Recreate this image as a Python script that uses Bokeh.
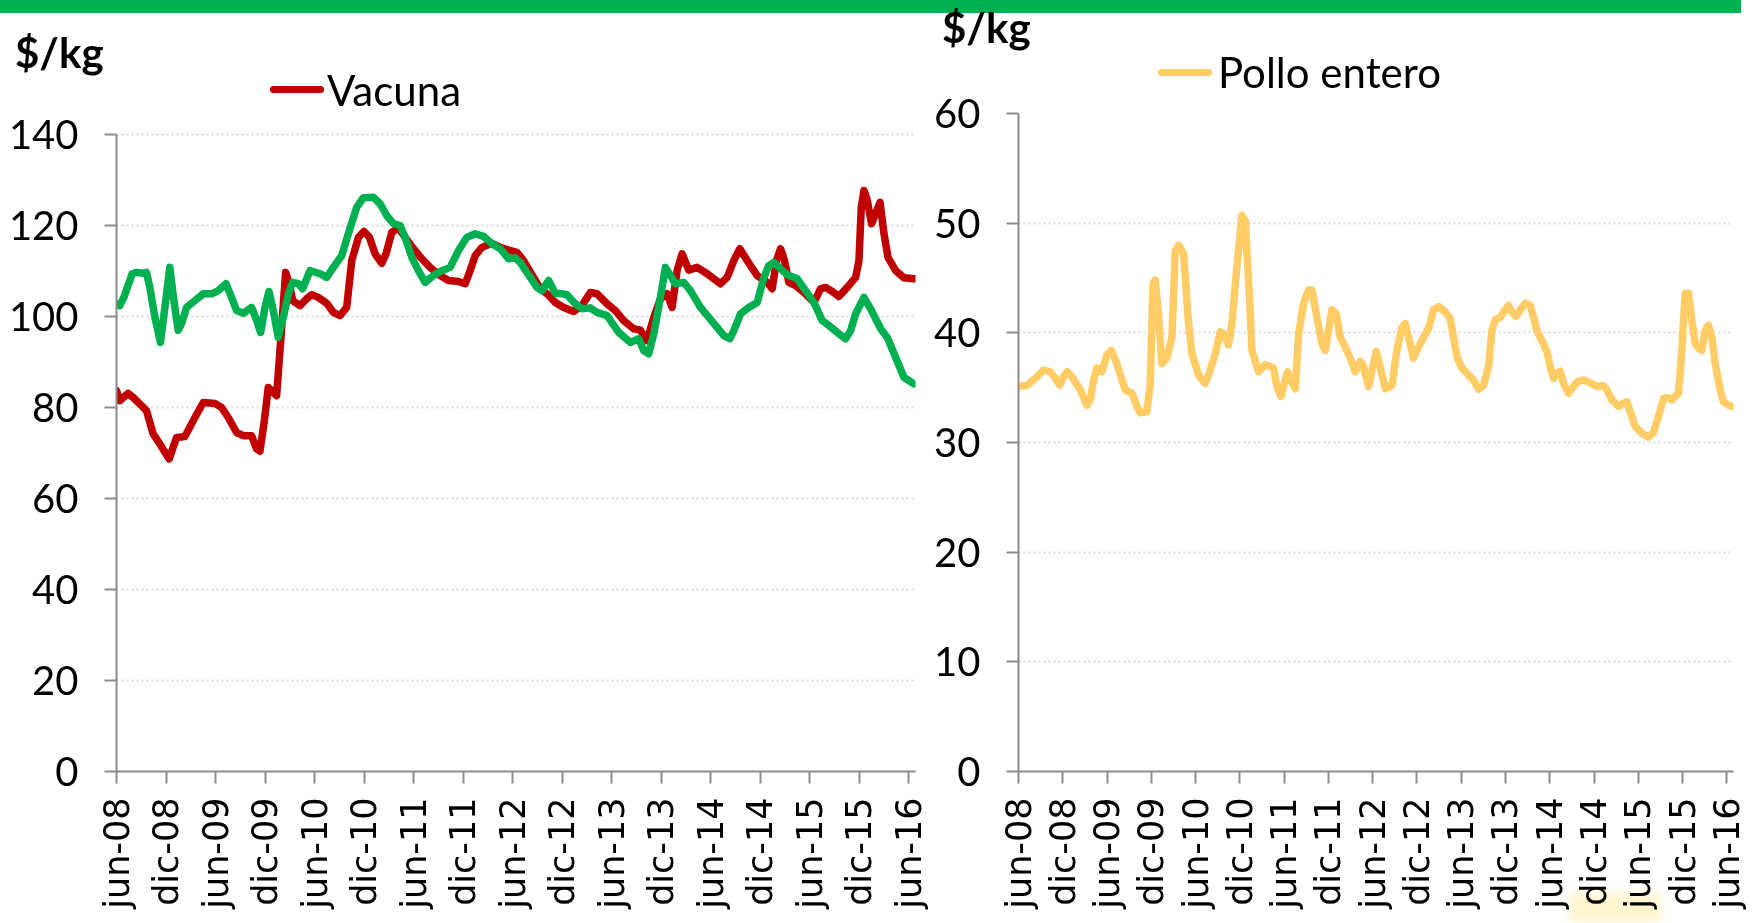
import math
from bokeh.plotting import figure
from bokeh.models import FixedTicker, Div, Range1d
from bokeh.layouts import column, row
from bokeh.embed import file_html
from bokeh.resources import INLINE

# ---------------- data ----------------
tick_months = [0, 6, 12, 18, 24, 30, 36, 42, 48, 54, 60, 66, 72, 78, 84, 90, 96]
tick_labels = ["jun-08", "dic-08", "jun-09", "dic-09", "jun-10", "dic-10", "jun-11", "dic-11",
               "jun-12", "dic-12", "jun-13", "dic-13", "jun-14", "dic-14", "jun-15", "dic-15", "jun-16"]

# months since jun-08
vacuna_mes = [0, 0.4, 1.41, 2.02, 3.03, 3.63, 4.44, 5.25, 6.38, 7.27, 8.28, 9.29, 10.51, 11.92, 12.73,
              13.54, 14.55, 15.36, 16.37, 16.98, 17.38, 17.91, 18.39, 19.40, 20.01, 20.49, 20.94, 21.34,
              22.23, 23.04, 23.65, 24.45, 25.47, 26.27, 27.08, 27.89, 28.50, 29.31, 29.99, 30.64, 31.33,
              32.14, 32.66, 33.35, 34.16, 34.97, 35.98, 36.99, 38.0, 39.21, 40.22, 41.43, 42.24, 42.85,
              43.46, 44.27, 45.48, 46.49, 47.50, 48.51, 49.32, 50.53, 51.34, 52.15, 53.16, 54.17, 55.38,
              56.39, 57.40, 58.21, 59.43, 60.44, 61.45, 62.66, 63.47, 64.28, 65.09, 65.90, 66.70, 67.31,
              67.92, 68.52, 69.33, 70.34, 71.56, 73.17, 73.98, 74.79, 75.52, 76.41, 77.62, 78.83, 79.44,
              79.96, 80.45, 80.93, 81.46, 82.27, 83.28, 84.49, 85.30, 85.91, 86.72, 87.52, 88.53, 89.55,
              89.95, 90.23, 90.56, 90.96, 91.48, 91.97, 92.50, 92.98, 93.47, 94.40, 95.41, 96.62]
vacuna_precio = [83.7, 81.5, 83.1, 82.2, 80.4, 79.3, 74.2, 72.0, 68.7, 73.4, 73.6, 77.1, 81.1, 80.9, 80.0,
                 77.8, 74.5, 73.8, 73.8, 70.9, 70.4, 77.1, 84.4, 82.6, 97.6, 109.7, 107.2, 103.5,
                 102.4, 103.9, 104.8, 104.2, 102.9, 100.9, 100.2, 102.0, 112.3, 117.4, 118.7, 117.4, 113.8,
                 111.7, 113.8, 118.5, 119.5, 117.4, 114.9, 112.7, 110.8, 109.0, 107.9, 107.7, 107.2, 110.1,
                 113.4, 115.2, 116.1, 115.2, 114.6, 114.1, 112.3, 108.6, 106.1, 105.0, 103.1, 102.0, 101.1,
                 102.4, 105.3, 105.0, 102.8, 101.3, 99.1, 97.3, 97.0, 94.7, 99.8, 103.9, 105.0, 102.0,
                 110.1, 113.8, 110.2, 110.8, 109.4, 107.2, 108.6, 112.3, 114.9, 112.3, 109.0, 107.5, 106.1,
                 112.3, 114.9, 112.3, 107.5, 106.8, 105.3, 103.1, 106.1, 106.4, 105.5, 104.4, 106.4, 108.6,
                 112.3, 124.0, 127.7, 125.5, 120.4, 122.6, 125.1, 118.2, 113.0, 110.1, 108.5, 108.3]

verde_mes = [0, 0.40, 0.89, 1.90, 2.42, 3.23, 3.63, 4.04, 4.65, 5.33, 5.86, 6.46, 6.95, 7.47, 7.88, 8.49,
             9.50, 10.51, 11.52, 12.33, 13.26, 13.94, 14.55, 15.36, 16.37, 16.98, 17.46, 17.99, 18.47,
             19.00, 19.60, 20.21, 20.82, 21.34, 22.03, 22.55, 23.44, 24.66, 25.47, 26.27, 27.29, 28.09,
             29.10, 29.91, 31.13, 31.93, 32.74, 33.55, 34.36, 34.97, 35.78, 36.58, 37.39, 38.40, 39.21,
             40.42, 41.43, 42.45, 43.46, 44.47, 45.48, 46.49, 47.50, 48.31, 48.91, 50.13, 50.94, 51.54,
             52.35, 53.16, 53.97, 54.57, 55.58, 56.39, 57.40, 58.21, 59.43, 60.84, 62.26, 63.27, 63.87,
             64.48, 65.09, 65.90, 66.50, 67.11, 67.71, 68.72, 69.53, 70.75, 71.76, 72.77, 73.58, 74.30,
             74.79, 75.60, 76.61, 77.62, 78.43, 79.03, 79.64, 80.45, 81.26, 82.47, 83.48, 84.49, 85.50,
             86.31, 87.32, 88.33, 88.94, 89.55, 90.56, 91.36, 92.58, 93.39, 94.40, 95.41, 96.62]
verde_precio = [102.8, 102.4, 104.2, 109.4, 109.7, 109.5, 109.7, 106.4, 99.8, 94.3, 102.0, 110.8, 103.5,
                97.0, 98.4, 102.0, 103.5, 105.0, 105.0, 105.7, 107.2, 104.2, 101.3, 100.7, 102.0, 99.1,
                96.5, 102.0, 105.5, 101.3, 95.4, 99.8, 105.0, 107.5, 107.2, 106.1, 110.1, 109.4, 108.6,
                110.8, 113.4, 118.2, 124.0, 126.1, 126.2, 124.8, 122.2, 120.4, 120.0, 117.4, 113.0, 110.1,
                107.5, 109.0, 109.9, 110.8, 114.5, 117.4, 118.2, 117.6, 116.0, 114.9, 112.7, 112.9, 111.9,
                108.6, 106.4, 105.7, 107.9, 105.1, 105.0, 104.8, 102.8, 101.7, 101.9, 100.9, 100.2, 96.5,
                94.3, 95.1, 92.5, 91.8, 96.2, 104.2, 110.8, 109.0, 107.2, 107.5, 105.7, 102.0, 99.8, 97.6,
                95.8, 95.1, 96.9, 100.6, 102.0, 103.1, 108.6, 111.2, 111.9, 110.5, 109.2, 108.3, 105.7,
                103.1, 99.1, 98.0, 96.5, 95.1, 96.9, 100.6, 104.2, 101.7, 97.3, 95.4, 91.0, 86.6, 85.2]

pollo_mes = [0, 1.15, 2.28, 3.41, 4.31, 4.99, 5.57, 6.12, 6.57, 7.24, 8.37, 9.28, 9.73, 10.18, 10.63,
             11.31, 11.99, 12.57, 13.34, 14.02, 14.47, 15.38, 16.05, 16.50, 17.41, 17.86, 18.22, 18.54,
             18.99, 19.44, 20.12, 20.80, 21.25, 21.70, 22.38, 23.05, 23.50, 24.41, 25.31, 25.99, 26.67,
             27.34, 27.80, 28.47, 28.93, 29.60, 30.28, 30.73, 31.32, 31.64, 32.54, 33.44, 34.57, 35.02,
             35.56, 36.02, 36.47, 36.92, 37.51, 37.96, 38.64, 39.31, 39.77, 40.44, 41.12, 41.57, 42.02,
             42.48, 43.06, 43.60, 44.28, 44.96, 45.64, 46.31, 46.77, 47.44, 48.12, 48.48, 49.02, 49.70,
             50.61, 51.28, 51.96, 52.41, 52.86, 53.54, 54.22, 54.90, 55.57, 56.25, 56.93, 57.83, 58.51,
             58.96, 59.41, 60.09, 60.99, 61.67, 62.35, 63.03, 63.70, 64.16, 64.61, 65.28, 65.96, 66.41,
             66.87, 67.45, 68.00, 68.67, 69.35, 69.80, 70.25, 70.93, 71.61, 72.06, 72.51, 72.96, 73.41,
             73.87, 74.54, 74.99, 75.67, 76.58, 77.48, 78.38, 79.29, 79.74, 80.42, 81.32, 82.00, 82.45,
             82.90, 83.58, 84.48, 85.38, 86.06, 86.74, 87.42, 87.87, 88.55, 89.45, 89.90, 90.35, 90.80,
             91.26, 91.71, 92.16, 92.61, 93.06, 93.51, 93.97, 94.42, 95.09, 95.55, 96.22, 96.68]
pollo_precio = [35.1, 35.2, 35.85, 36.6, 36.45, 35.85, 35.24, 36.0, 36.45, 36.0, 34.8, 33.4, 33.9, 35.7,
                36.8, 36.45, 38.0, 38.4, 37.2, 35.7, 34.8, 34.5, 33.3, 32.7, 32.8, 35.4, 44.5, 44.8,
                41.45, 37.2, 37.7, 39.6, 47.5, 48.0, 47.2, 40.85, 38.1, 36.15, 35.4, 36.6, 38.1, 40.1,
                39.9, 38.9, 40.85, 46.0, 50.7, 50.2, 43.0, 38.4, 36.45, 37.1, 36.8, 35.1, 34.2, 35.4,
                36.45, 35.7, 34.9, 39.9, 42.7, 43.9, 43.9, 41.45, 39.0, 38.4, 40.2, 42.1, 41.75, 39.6,
                38.7, 37.7, 36.45, 37.4, 36.9, 35.1, 37.2, 38.3, 36.9, 34.9, 35.2, 38.4, 40.5, 40.85,
                39.6, 37.7, 38.7, 39.6, 40.4, 42.1, 42.4, 41.9, 41.3, 39.6, 37.8, 36.8, 36.15, 35.7,
                34.85, 35.2, 36.9, 40.2, 41.2, 41.4, 42.1, 42.5, 41.9, 41.5, 42.1, 42.7, 42.5, 41.45,
                40.2, 39.3, 38.3, 36.9, 35.85, 36.3, 36.5, 35.4, 34.5, 34.9, 35.5, 35.7, 35.45, 35.1,
                35.2, 34.8, 33.9, 33.3, 33.6, 33.7, 32.8, 31.45, 30.85, 30.5, 30.9, 32.4, 34.0, 34.1,
                33.9, 34.5, 38.4, 43.6, 43.6, 41.15, 39.0, 38.6, 38.4, 40.2, 40.7, 39.6, 37.2, 34.8,
                33.7, 33.4, 33.3]

ticks_izq = [0, 20, 40, 60, 80, 100, 120, 140]
ticks_der = [0, 10, 20, 30, 40, 50, 60]

unidad = "$/kg"
serie_izq = "Vacuna"
serie_der = "Pollo entero"

ROJO = "#C00000"
VERDE = "#00B050"
AMARILLO = "#FFCC66"
GRIS = "#8C8C8C"
FONT = "Lato"
LW = 7.5


def estilo(p, yticks):
    p.xaxis.ticker = FixedTicker(ticks=tick_months)
    p.xaxis.major_label_overrides = {m: l for m, l in zip(tick_months, tick_labels)}
    p.xaxis.major_label_orientation = math.pi / 2
    p.xaxis.major_label_text_font = "DejaVu Sans"
    p.xaxis.major_label_text_font_size = "35px"
    p.xaxis.major_label_standoff = 14
    p.yaxis.ticker = FixedTicker(ticks=yticks)
    p.yaxis.bounds = (yticks[0], yticks[-1])
    p.yaxis.major_label_text_font = FONT
    p.yaxis.major_label_text_font_size = "40px"
    p.yaxis.major_label_standoff = 26
    for ax in (p.xaxis, p.yaxis):
        ax.axis_line_color = GRIS
        ax.axis_line_width = 2
        ax.major_tick_line_color = GRIS
        ax.major_tick_line_width = 2
        ax.major_tick_out = 12
        ax.major_tick_in = 0
        ax.minor_tick_line_color = None
        ax.major_label_text_color = "black"
    p.xgrid.visible = False
    p.ygrid.ticker = FixedTicker(ticks=yticks)
    p.ygrid.grid_line_color = "#D9D9D9"
    p.ygrid.grid_line_dash = "2 3"
    p.ygrid.grid_line_width = 2
    p.outline_line_color = None
    p.background_fill_color = "white"
    p.border_fill_color = "white"


FRAME_H = 658
TOP = 113
BOTTOM = 150

# ---------------- left chart ----------------
p1 = figure(frame_width=799, frame_height=FRAME_H,
            x_range=Range1d(0, 96.8), y_range=Range1d(0, 144.62),
            min_border_left=116, min_border_right=16, min_border_top=TOP, min_border_bottom=BOTTOM,
            toolbar_location=None, output_backend="svg")
estilo(p1, ticks_izq)
p1.line(vacuna_mes, vacuna_precio, line_color=ROJO, line_width=LW, line_join="round", line_cap="round")
p1.line(verde_mes, verde_precio, line_color=VERDE, line_width=LW, line_join="round", line_cap="round")

# ---------------- right chart ----------------
p2 = figure(frame_width=715, frame_height=FRAME_H,
            x_range=Range1d(0, 96.9), y_range=Range1d(0, 60.0),
            min_border_left=87, min_border_right=15, min_border_top=TOP, min_border_bottom=BOTTOM,
            toolbar_location=None, output_backend="svg")
estilo(p2, ticks_der)
p2.line(pollo_mes, pollo_precio, line_color=AMARILLO, line_width=LW, line_join="round", line_cap="round")

charts = row(p1, p2, spacing=0)
total_h = TOP + FRAME_H + BOTTOM

# ---------------- overlay: green bar, units, legends and highlight ----------------
txt = "position:absolute;line-height:1;white-space:nowrap;font-family:Lato;color:#000;"
header_html = (
    '<div style="position:relative;width:1750px;height:130px;">'
    f'<div style="position:absolute;left:0;top:0;width:1741px;height:13px;background:{VERDE};"></div>'
    '<div style="position:absolute;left:1570px;top:893px;width:90px;height:30px;'
    'background:#FFF6CF;filter:blur(5px);mix-blend-mode:multiply;"></div>'
    f'<div style="{txt}left:15px;top:31px;font-size:42px;font-weight:bold;">{unidad}</div>'
    f'<div style="{txt}left:942px;top:6px;font-size:42px;font-weight:bold;">{unidad}</div>'
    f'<div style="position:absolute;left:270px;top:86px;width:54px;height:7px;border-radius:4px;background:{ROJO};"></div>'
    f'<div style="{txt}left:327px;top:69px;font-size:42px;">{serie_izq}</div>'
    f'<div style="position:absolute;left:1158px;top:69px;width:54px;height:7px;border-radius:4px;background:{AMARILLO};"></div>'
    f'<div style="{txt}left:1218px;top:51px;font-size:42px;">{serie_der}</div>'
    '</div>'
)
header = Div(text=header_html, width=1750, height=130, margin=(-total_h, 0, 0, 0))

layout = column(charts, header, spacing=0)

open("out.html", "w").write(file_html(layout, INLINE))
